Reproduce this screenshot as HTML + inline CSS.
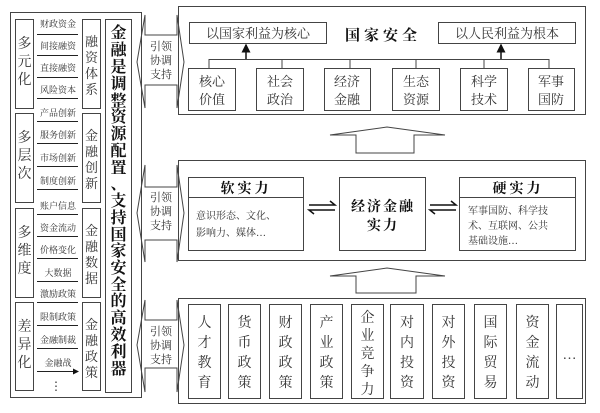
<!DOCTYPE html>
<html><head><meta charset="utf-8"><style>
html,body{margin:0;padding:0;background:#fff;}
svg{display:block;}
text{font-family:"Liberation Serif","Noto Serif CJK SC",serif;fill:#333;}
.b{font-weight:bold;fill:#111;}
</style></head><body>
<svg width="600" height="413" viewBox="0 0 600 413" xmlns="http://www.w3.org/2000/svg">
<defs><marker id="ah" markerWidth="6" markerHeight="6" refX="5" refY="3" orient="auto"><path d="M0,0 L6,3 L0,6 z" fill="#111"/></marker></defs>
<g fill="none" stroke="#444" stroke-width="1">
<!-- left outer -->
<rect x="10.5" y="12.5" width="131" height="385"/>
<rect x="15.5" y="19.5" width="18" height="89"/>
<rect x="15.5" y="113.5" width="18" height="89"/>
<rect x="15.5" y="208.5" width="18" height="89"/>
<rect x="15.5" y="302.5" width="18" height="88"/>
<rect x="82.5" y="19.5" width="18" height="89"/>
<rect x="82.5" y="113.5" width="18" height="89"/>
<rect x="82.5" y="208.5" width="18" height="89"/>
<rect x="82.5" y="302.5" width="18" height="88"/>
<rect x="105.5" y="19.5" width="26" height="373"/>
<!-- side double arrows -->
<polygon points="145,15 145,35 177,35 177,15 184,62 177,108 177,85 145,85 145,108 137,62"/>
<polygon points="145,165 145,187 177,187 177,165 184,213 177,262 177,240 145,240 145,262 137,213"/>
<polygon points="145,300 145,320 177,320 177,300 184,345 177,392 177,368 145,368 145,392 137,345"/>
<!-- right panels -->
<rect x="178.5" y="6.5" width="407" height="108"/>
<rect x="178.5" y="160.5" width="407" height="100"/>
<rect x="178.5" y="298.5" width="407" height="105"/>
<!-- up block arrows -->
<polygon points="356,153 356,135 330,135 387,127 445,135 414,135 414,153"/>
<polygon points="356,293 356,276 330,276 387,268 445,276 416,276 416,293"/>
<!-- top inner -->
<rect x="189.5" y="22.5" width="137" height="21"/>
<rect x="438.5" y="22.5" width="137" height="21"/>
<rect x="188.5" y="68.5" width="47" height="42"/>
<rect x="256.5" y="68.5" width="47" height="42"/>
<rect x="324.5" y="68.5" width="46" height="42"/>
<rect x="392.5" y="68.5" width="47" height="42"/>
<rect x="460.5" y="68.5" width="47" height="42"/>
<rect x="528.5" y="68.5" width="46" height="42"/>
<path d="M209,68 V59.5 H549 V68 M282,59 V68 M350,59 V68 M416,59 V68 M484,59 V68"/>
<!-- middle -->
<rect x="188.5" y="177.5" width="115" height="73"/>
<line x1="188" y1="197.5" x2="304" y2="197.5"/>
<rect x="339.5" y="177.5" width="86" height="73"/>
<rect x="459.5" y="177.5" width="116" height="73"/>
<line x1="459" y1="197.5" x2="576" y2="197.5"/>
<!-- bottom boxes -->
<rect x="188.5" y="304.5" width="32" height="94"/>
<rect x="228.5" y="304.5" width="32" height="94"/>
<rect x="269.5" y="304.5" width="32" height="94"/>
<rect x="310.5" y="304.5" width="32" height="94"/>
<rect x="351.5" y="304.5" width="32" height="94"/>
<rect x="390.5" y="304.5" width="33" height="94"/>
<rect x="432.5" y="304.5" width="32" height="94"/>
<rect x="474.5" y="304.5" width="32" height="94"/>
<rect x="516.5" y="304.5" width="32" height="94"/>
<rect x="556.5" y="304.5" width="26" height="94"/>
</g>
<g stroke="#111" stroke-width="1.5">
<line x1="246" y1="59" x2="246" y2="45" marker-end="url(#ah)"/>
<line x1="501" y1="59" x2="501" y2="45" marker-end="url(#ah)"/>
<!-- equilibrium arrows -->
<path d="M309,205 H335 L330,201 M335,210 H309 L314,214" fill="none"/>
<path d="M430,205 H456 L451,201 M456,210 H430 L435,214" fill="none"/>
</g>
<!-- small arrows left -->
<g stroke="#222" stroke-width="1">
<path d="M37,34.5H78M37,55.5H78M37,77.5H78M37,98.5H78M37,121.5H78M37,143.5H78M37,166.5H78M37,189.5H78M37,214.5H78M37,236.5H78M37,258.5H78M37,281.5H78M37,302.5H78M37,325.5H78M37,348.5H78M37,371.5H78" marker-end="url(#ah)"/>
</g>
<g font-size="9" text-anchor="middle">
<text x="58" y="27">财政资金</text><text x="58" y="49">间接融资</text><text x="58" y="71">直接融资</text><text x="58" y="93">风险资本</text>
<text x="58" y="116">产品创新</text><text x="58" y="138">服务创新</text><text x="58" y="161">市场创新</text><text x="58" y="184">制度创新</text>
<text x="58" y="209">账户信息</text><text x="58" y="231">资金流动</text><text x="58" y="253">价格变化</text><text x="58" y="276">大数据</text>
<text x="58" y="297">激励政策</text><text x="58" y="320">限制政策</text><text x="58" y="343">金融制裁</text><text x="58" y="366">金融战</text>
<text x="56" y="390" font-size="12">⋮</text>
</g>
<g font-size="14" text-anchor="middle">
<text x="24.5" y="48">多</text><text x="24.5" y="66">元</text><text x="24.5" y="84">化</text>
<text x="24.5" y="142">多</text><text x="24.5" y="160">层</text><text x="24.5" y="178">次</text>
<text x="24.5" y="237">多</text><text x="24.5" y="255">维</text><text x="24.5" y="273">度</text>
<text x="24.5" y="331">差</text><text x="24.5" y="349">异</text><text x="24.5" y="367">化</text>
</g>
<g font-size="13" text-anchor="middle">
<text x="91.5" y="46">融</text><text x="91.5" y="62">资</text><text x="91.5" y="78">体</text><text x="91.5" y="94">系</text>
<text x="91.5" y="140">金</text><text x="91.5" y="156">融</text><text x="91.5" y="172">创</text><text x="91.5" y="188">新</text>
<text x="91.5" y="235">金</text><text x="91.5" y="251">融</text><text x="91.5" y="267">数</text><text x="91.5" y="283">据</text>
<text x="91.5" y="329">金</text><text x="91.5" y="345">融</text><text x="91.5" y="361">政</text><text x="91.5" y="377">策</text>
</g>
<g font-size="16" text-anchor="middle" class="b">
<text class="b" x="118.5" y="38">金</text><text class="b" x="118.5" y="55">融</text><text class="b" x="118.5" y="72">是</text><text class="b" x="118.5" y="89">调</text><text class="b" x="118.5" y="106">整</text><text class="b" x="118.5" y="122">资</text><text class="b" x="118.5" y="139">源</text><text class="b" x="118.5" y="156">配</text><text class="b" x="118.5" y="173">置</text><text class="b" x="118.5" y="189">、</text><text class="b" x="118.5" y="206">支</text><text class="b" x="118.5" y="223">持</text><text class="b" x="118.5" y="240">国</text><text class="b" x="118.5" y="256">家</text><text class="b" x="118.5" y="273">安</text><text class="b" x="118.5" y="290">全</text><text class="b" x="118.5" y="306">的</text><text class="b" x="118.5" y="323">高</text><text class="b" x="118.5" y="340">效</text><text class="b" x="118.5" y="357">利</text><text class="b" x="118.5" y="374">器</text>
</g>
<g font-size="11" text-anchor="middle" style="font-family:'Liberation Sans','Noto Sans CJK SC',sans-serif">
<text x="161" y="50">引领</text><text x="161" y="64">协调</text><text x="161" y="78">支持</text>
<text x="161" y="201">引领</text><text x="161" y="215">协调</text><text x="161" y="229">支持</text>
<text x="161" y="335">引领</text><text x="161" y="349">协调</text><text x="161" y="363">支持</text>
</g>
<g font-size="13" text-anchor="middle">
<text x="258" y="38">以国家利益为核心</text>
<text x="507" y="38">以人民利益为根本</text>
<text class="b" x="383" y="40" font-size="15" letter-spacing="4">国家安全</text>
<text x="212" y="86">核心</text><text x="212" y="104">价值</text>
<text x="280" y="86">社会</text><text x="280" y="104">政治</text>
<text x="347" y="86">经济</text><text x="347" y="104">金融</text>
<text x="416" y="86">生态</text><text x="416" y="104">资源</text>
<text x="484" y="86">科学</text><text x="484" y="104">技术</text>
<text x="551" y="86">军事</text><text x="551" y="104">国防</text>
<text class="b" x="246" y="193" font-size="14" letter-spacing="3">软实力</text>
<text class="b" x="518" y="193" font-size="14" letter-spacing="3">硬实力</text>
<text class="b" x="383" y="211" font-size="14" letter-spacing="2">经济金融</text>
<text class="b" x="383" y="230" font-size="14" letter-spacing="2">实力</text>
</g>
<g font-size="10">
<text x="196" y="219">意识形态、文化、</text>
<text x="196" y="236">影响力、媒体…</text>
<text x="468" y="214">军事国防、科学技</text>
<text x="468" y="229">术、互联网、公共</text>
<text x="468" y="244">基础设施…</text>
</g>
<g font-size="14" text-anchor="middle">
<text x="204.5" y="327">人</text><text x="204.5" y="347">才</text><text x="204.5" y="367">教</text><text x="204.5" y="387">育</text>
<text x="244.5" y="327">货</text><text x="244.5" y="347">币</text><text x="244.5" y="367">政</text><text x="244.5" y="387">策</text>
<text x="285.5" y="327">财</text><text x="285.5" y="347">政</text><text x="285.5" y="367">政</text><text x="285.5" y="387">策</text>
<text x="326.5" y="327">产</text><text x="326.5" y="347">业</text><text x="326.5" y="367">政</text><text x="326.5" y="387">策</text>
<text x="367.5" y="322">企</text><text x="367.5" y="340">业</text><text x="367.5" y="358">竞</text><text x="367.5" y="376">争</text><text x="367.5" y="394">力</text>
<text x="407" y="327">对</text><text x="407" y="347">内</text><text x="407" y="367">投</text><text x="407" y="387">资</text>
<text x="448.5" y="327">对</text><text x="448.5" y="347">外</text><text x="448.5" y="367">投</text><text x="448.5" y="387">资</text>
<text x="490.5" y="327">国</text><text x="490.5" y="347">际</text><text x="490.5" y="367">贸</text><text x="490.5" y="387">易</text>
<text x="532.5" y="327">资</text><text x="532.5" y="347">金</text><text x="532.5" y="367">流</text><text x="532.5" y="387">动</text>
<text x="569.5" y="359">…</text>
</g>
</svg>
</body></html>
